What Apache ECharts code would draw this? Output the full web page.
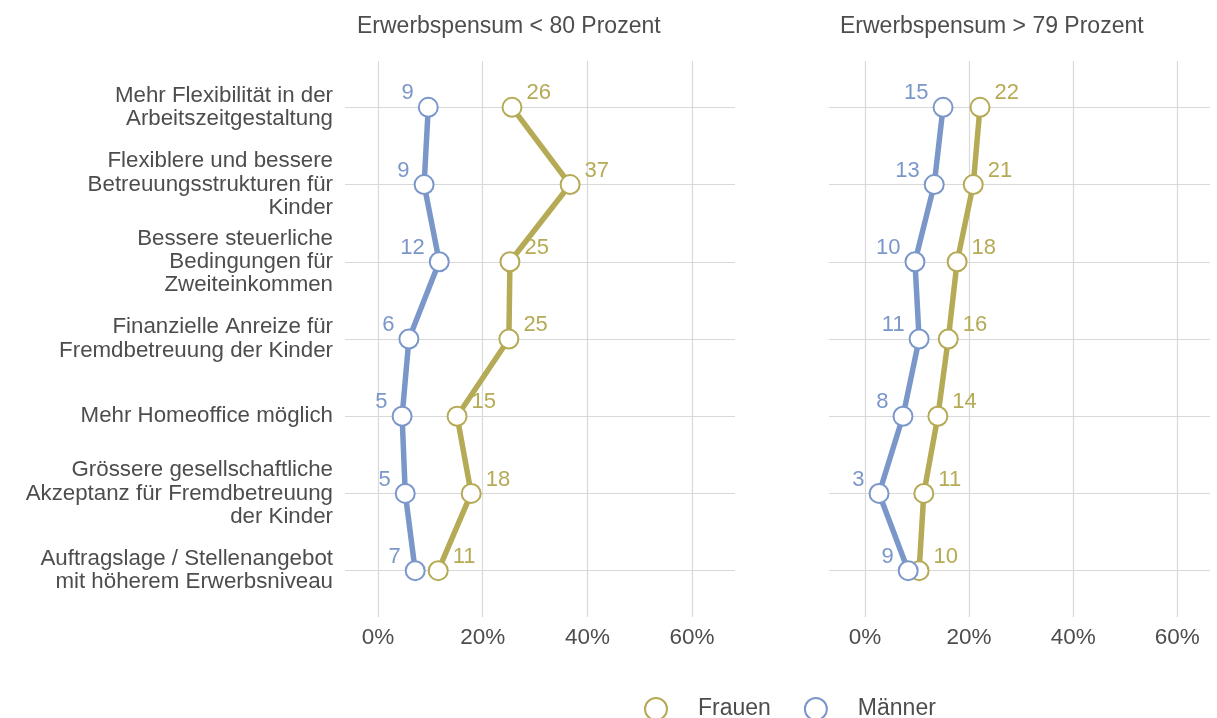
<!DOCTYPE html>
<html>
<head>
<meta charset="utf-8">
<script src="https://cdn.jsdelivr.net/npm/echarts@6/dist/echarts.min.js"></script>
<style>
  html, body { margin: 0; padding: 0; background: #fff; }
  #chart { width: 1217px; height: 718px; }
</style>
</head>
<body>
<div id="chart"></div>
<script>
// Kategorien (von oben nach unten)
const categories = [
  'Mehr Flexibilität in der\nArbeitszeitgestaltung',
  'Flexiblere und bessere\nBetreuungsstrukturen für\nKinder',
  'Bessere steuerliche\nBedingungen für\nZweiteinkommen',
  'Finanzielle Anreize für\nFremdbetreuung der Kinder',
  'Mehr Homeoffice möglich',
  'Grössere gesellschaftliche\nAkzeptanz für Fremdbetreuung\nder Kinder',
  'Auftragslage / Stellenangebot\nmit höherem Erwerbsniveau'
]
const panelTitles = ['Erwerbspensum < 80 Prozent', 'Erwerbspensum > 79 Prozent']
const xTicks = [0, 20, 40, 60]

// Erwerbspensum < 80 Prozent
const frauenLow = [25.6, 36.7, 25.2, 25.0, 15.1, 17.8, 11.5]
const frauenLowLabels = [26, 37, 25, 25, 15, 18, 11]
const maennerLow = [9.6, 8.8, 11.7, 5.9, 4.6, 5.2, 7.1]
const maennerLowLabels = [9, 9, 12, 6, 5, 5, 7]

// Erwerbspensum > 79 Prozent
const frauenHigh = [22.1, 20.8, 17.7, 16.0, 14.0, 11.3, 10.4]
const frauenHighLabels = [22, 21, 18, 16, 14, 11, 10]
const maennerHigh = [15.0, 13.3, 9.6, 10.4, 7.3, 2.7, 8.3]
const maennerHighLabels = [15, 13, 10, 11, 8, 3, 9]

const OLIVE = '#b5aa55'
const BLUE = '#7b97ca'
const TEXT = '#4d4d4d'
const GRID = '#d9d9d9'
const FONT = '"Liberation Sans", Arial, sans-serif'

const chart = echarts.init(document.getElementById('chart'))

function toPoints(values) {
  return values.map((v, i) => [v, i + 1])
}

function makeSeries(name, values, labels, color, idx, side) {
  return {
    name,
    type: 'line',
    xAxisIndex: idx,
    yAxisIndex: idx,
    data: toPoints(values),
    symbol: 'circle',
    symbolSize: 19,
    lineStyle: { color, width: 5.5 },
    itemStyle: { color: '#fff', borderColor: color, borderWidth: 2 },
    label: {
      show: true,
      position: side,
      distance: 4,
      offset: [0, -14],
      color,
      fontSize: 22,
      fontFamily: FONT,
      formatter: (p) => String(labels[p.dataIndex])
    },
    emphasis: { disabled: true },
    z: name === 'Männer' ? 3 : 2
  }
}

function makeXAxis(idx, min, max) {
  return {
    type: 'value',
    gridIndex: idx,
    min,
    max,
    axisLine: { show: false },
    axisTick: { show: false, customValues: xTicks },
    axisLabel: {
      customValues: xTicks,
      formatter: (v) => v + '%',
      color: TEXT,
      fontSize: 22.5,
      fontFamily: FONT,
      margin: 9
    },
    splitLine: { show: true, lineStyle: { color: GRID, width: 1.2 } }
  }
}

function makeYAxis(idx, showLabels) {
  const ticks = categories.map((c, i) => i + 1)
  return {
    type: 'value',
    gridIndex: idx,
    inverse: true,
    min: 0.4,
    max: 7.6,
    axisLine: { show: false },
    axisTick: { show: false, customValues: ticks },
    axisLabel: {
      show: showLabels,
      customValues: ticks,
      formatter: (v) => categories[Math.round(v) - 1] || '',
      color: TEXT,
      fontSize: 22.3,
      lineHeight: 23.3,
      fontFamily: FONT,
      align: 'right',
      margin: 12
    },
    splitLine: { show: true, lineStyle: { color: GRID, width: 1.2 } }
  }
}

const option = {
  backgroundColor: '#fff',
  animation: false,
  title: panelTitles.map((t, i) => ({
    text: t,
    left: i === 0 ? 352 : 835,
    top: 10,
    textStyle: { color: TEXT, fontSize: 23, fontWeight: 'normal', fontFamily: FONT }
  })),
  legend: {
    left: 639,
    top: 692,
    itemWidth: 74,
    itemHeight: 22,
    itemGap: 33,
    textStyle: { color: TEXT, fontSize: 23, fontFamily: FONT },
    data: [
      { name: 'Frauen', icon: 'circle', itemStyle: { color: '#fff', borderColor: OLIVE, borderWidth: 2 } },
      { name: 'Männer', icon: 'circle', itemStyle: { color: '#fff', borderColor: BLUE, borderWidth: 2 } }
    ]
  },
  grid: [
    { left: 345, width: 390, top: 61, height: 556 },
    { left: 829, width: 381, top: 61, height: 556 }
  ],
  xAxis: [makeXAxis(0, -6.31, 68.2), makeXAxis(1, -6.92, 66.3)],
  yAxis: [makeYAxis(0, true), makeYAxis(1, false)],
  series: [
    makeSeries('Frauen', frauenLow, frauenLowLabels, OLIVE, 0, 'right'),
    makeSeries('Männer', maennerLow, maennerLowLabels, BLUE, 0, 'left'),
    makeSeries('Frauen', frauenHigh, frauenHighLabels, OLIVE, 1, 'right'),
    makeSeries('Männer', maennerHigh, maennerHighLabels, BLUE, 1, 'left')
  ]
}

chart.setOption(option)
</script>
</body>
</html>
